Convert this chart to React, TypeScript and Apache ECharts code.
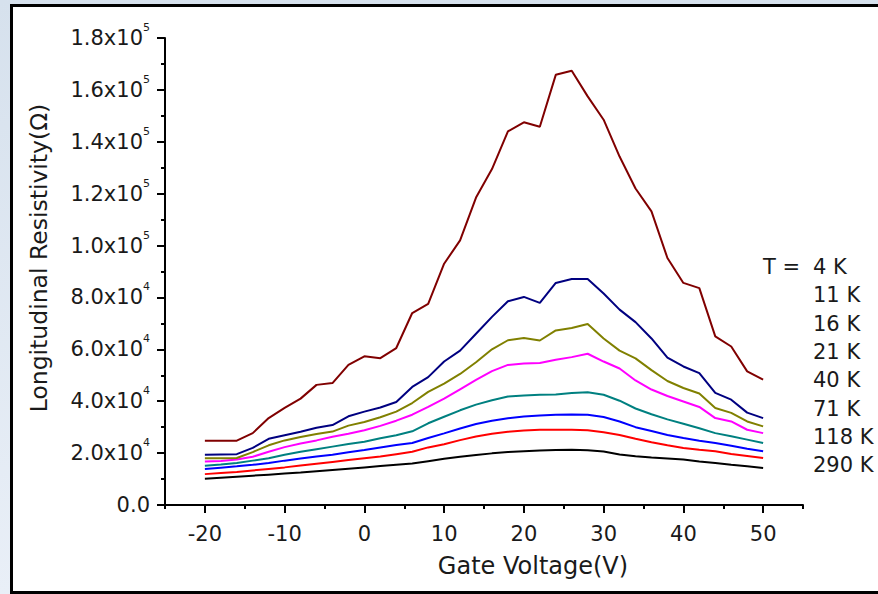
import React, { useEffect, useRef } from "react";
import * as echarts from "echarts";

// Gate voltage (V)
const gateVoltage = [
  -20, -18, -16, -14, -12, -10, -8, -6, -4, -2,
  0, 2, 4, 6, 8, 10, 12, 14, 16, 18,
  20, 22, 24, 26, 28, 30, 32, 34, 36, 38,
  40, 42, 44, 46, 48, 50,
];

// Longitudinal resistivity in kΩ
const r4K = [
  24.8, 24.8, 24.8, 27.7, 33.5, 37.4, 41.0, 46.3, 47.0, 54.0,
  57.3, 56.6, 60.5, 74.0, 77.5, 93.0, 102.0, 118.5, 129.5, 144.0,
  147.5, 145.8, 165.8, 167.4, 157.5, 148.5, 134.3, 122.0, 113.2, 95.2,
  85.6, 83.6, 65.0, 61.1, 51.5, 48.3,
];
const r11K = [
  19.4, 19.5, 19.6, 22.0, 25.5, 26.9, 28.2, 29.8, 30.8, 34.2,
  36.0, 37.6, 39.7, 45.5, 49.3, 55.3, 59.5, 66.0, 72.5, 78.5,
  80.2, 77.9, 85.6, 87.1, 87.1, 81.5, 75.3, 70.5, 64.2, 56.8,
  53.4, 50.8, 43.2, 40.6, 35.6, 33.5,
];
const r16K = [
  18.0, 18.0, 18.1, 20.4, 23.0, 24.9, 26.2, 27.4, 28.3, 30.6,
  32.0, 33.8, 36.0, 39.3, 43.6, 46.8, 50.5, 55.0, 60.0, 63.5,
  64.4, 63.4, 67.3, 68.2, 69.8, 64.2, 59.5, 56.5, 52.0, 47.8,
  45.1, 43.0, 37.4, 35.5, 32.2, 30.3,
];
const r21K = [
  16.8, 17.0, 17.5, 18.6, 20.5, 22.3, 23.7, 24.9, 26.3, 27.5,
  28.8, 30.5, 32.5, 34.8, 37.8, 41.0, 44.6, 48.2, 51.6, 54.0,
  54.5, 54.7, 56.0, 57.0, 58.3, 55.3, 52.6, 48.0, 44.5, 42.0,
  39.9, 37.8, 33.5, 32.2, 29.0, 27.7,
];
const r40K = [
  15.1, 15.6, 16.2, 17.1, 18.0, 19.4, 20.5, 21.5, 22.5, 23.5,
  24.4, 25.7, 26.9, 28.4, 31.5, 34.0, 36.5, 38.7, 40.4, 41.8,
  42.2, 42.5, 42.6, 43.2, 43.5, 42.5, 40.2, 37.2, 35.0, 33.0,
  31.3, 29.6, 27.7, 26.5, 25.2, 23.9,
];
const r71K = [
  13.9, 14.4, 14.9, 15.5, 16.2, 17.1, 17.9, 18.7, 19.4, 20.3,
  21.2, 22.2, 23.1, 23.9, 25.8, 27.6, 29.5, 31.2, 32.5, 33.4,
  34.1, 34.5, 34.8, 34.9, 34.8, 33.9, 32.2, 30.0, 28.5, 27.0,
  25.8, 24.8, 23.9, 22.8, 21.7, 20.7,
];
const r118K = [
  11.9, 12.3, 12.7, 13.3, 13.9, 14.5, 15.2, 15.9, 16.6, 17.3,
  18.0, 18.7, 19.6, 20.5, 22.2, 23.4, 25.0, 26.4, 27.5, 28.2,
  28.7, 29.0, 29.0, 29.0, 28.8, 28.0, 27.0, 25.5, 24.2, 23.0,
  22.0, 21.3, 20.7, 19.7, 18.9, 18.1,
];
const r290K = [
  10.1, 10.5, 10.9, 11.3, 11.7, 12.1, 12.5, 13.0, 13.5, 14.0,
  14.5, 15.0, 15.5, 16.0, 16.9, 17.8, 18.6, 19.3, 19.9, 20.4,
  20.7, 21.0, 21.2, 21.3, 21.1, 20.6, 19.5, 18.8, 18.3, 17.9,
  17.5, 16.8, 16.2, 15.5, 14.9, 14.3,
];

const temperatures = ["4 K", "11 K", "16 K", "21 K", "40 K", "71 K", "118 K", "290 K"];
const seriesValues = [r4K, r11K, r16K, r21K, r40K, r71K, r118K, r290K];
const seriesColors = ["#800000", "#000080", "#808000", "#ff00ff", "#008080", "#0000ff", "#ff0000", "#000000"];

const xMajorTicks = [-20, -10, 0, 10, 20, 30, 40, 50];
const xMinorTicks = [-25, -15, -5, 5, 15, 25, 35, 45, 55];

const FONT = "DejaVu Sans";
const TEXT = "#1a1a1a";

export default function App() {
  const ref = useRef<HTMLDivElement>(null);

  useEffect(() => {
    document.body.style.margin = "0";
    const chart = echarts.init(ref.current!, null, { renderer: "svg" });

    const option: any = {
      animation: false,
      graphic: [
        {
          type: "rect",
          z: -100,
          silent: true,
          shape: { x: 11.5, y: 5.5, width: 900, height: 587 },
          style: { fill: "#ffffff", stroke: "#000000", lineWidth: 3 },
        },
        {
          type: "text",
          x: 39,
          y: 258,
          rotation: Math.PI / 2,
          style: {
            text: "Longitudinal Resistivity(Ω)",
            font: `23.5px "${FONT}"`,
            fill: TEXT,
            textAlign: "center",
            textVerticalAlign: "middle",
          },
        },
        {
          type: "text",
          x: 533,
          y: 566,
          style: {
            text: "Gate Voltage(V)",
            font: `24px "${FONT}"`,
            fill: TEXT,
            textAlign: "center",
            textVerticalAlign: "middle",
          },
        },
        {
          type: "text",
          x: 763,
          y: 267,
          style: {
            text: "T =",
            font: `21px "${FONT}"`,
            fill: TEXT,
            textAlign: "left",
            textVerticalAlign: "middle",
          },
        },
      ],
      grid: {
        left: 165,
        right: 75,
        top: 38,
        bottom: 89,
        containLabel: false,
        outerBoundsMode: "none",
      },
      legend: {
        data: temperatures,
        orient: "vertical",
        left: 802,
        top: 250,
        itemWidth: 0,
        itemHeight: 0,
        itemGap: 4.3,
        selectedMode: false,
        textStyle: { fontFamily: FONT, fontSize: 21, lineHeight: 24, color: TEXT },
      },
      xAxis: [
        {
          type: "value",
          min: -25,
          max: 55,
          interval: 5,
          position: "bottom",
          axisLine: { onZero: false, lineStyle: { color: "#000", width: 2 } },
          axisTick: {
            customValues: xMajorTicks,
            length: 8,
            lineStyle: { color: "#000", width: 2 },
          },
          axisLabel: {
            customValues: xMajorTicks,
            fontFamily: FONT,
            fontSize: 21,
            lineHeight: 24,
            color: TEXT,
            margin: 17,
          },
          splitLine: { show: false },
        },
        {
          type: "value",
          min: -25,
          max: 55,
          interval: 5,
          position: "bottom",
          axisLine: { show: false, onZero: false },
          axisTick: {
            show: true,
            customValues: xMinorTicks,
            length: 4,
            lineStyle: { color: "#000", width: 2 },
          },
          axisLabel: { show: false },
          splitLine: { show: false },
        },
      ],
      yAxis: {
        type: "value",
        min: 0,
        max: 180000,
        interval: 20000,
        position: "left",
        axisLine: { show: true, onZero: false, lineStyle: { color: "#000", width: 2 } },
        axisTick: { show: true, length: 8, lineStyle: { color: "#000", width: 2 } },
        minorTick: { show: true, splitNumber: 2, length: 4, lineStyle: { color: "#000", width: 2 } },
        splitLine: { show: false },
        axisLabel: {
          margin: 15,
          formatter: (v: number) => {
            if (v === 0) return "{a|0.0}";
            const e = v >= 100000 ? 5 : 4;
            const m = v / Math.pow(10, e);
            return `{a|${m.toFixed(1)}x10}{b|${e}}`;
          },
          rich: {
            a: { fontFamily: FONT, fontSize: 21, lineHeight: 32, color: TEXT },
            b: { fontFamily: FONT, fontSize: 11, lineHeight: 12, verticalAlign: "top", color: TEXT },
          },
        },
      },
      series: temperatures.map((name, k) => ({
        name,
        type: "line",
        xAxisIndex: 0,
        showSymbol: false,
        symbol: "none",
        color: seriesColors[k],
        lineStyle: { color: seriesColors[k], width: 2 },
        data: gateVoltage.map((v, i) => [v, seriesValues[k][i] * 1000]),
        z: 10 - k,
      })),
    };

    chart.setOption(option);
    return () => chart.dispose();
  }, []);

  return (
    <div
      ref={ref}
      style={{
        position: "absolute",
        left: 0,
        top: 0,
        width: 878,
        height: 594,
        background: "linear-gradient(180deg, #d6e1ed 0%, #e9eff7 100%)",
      }}
    />
  );
}
